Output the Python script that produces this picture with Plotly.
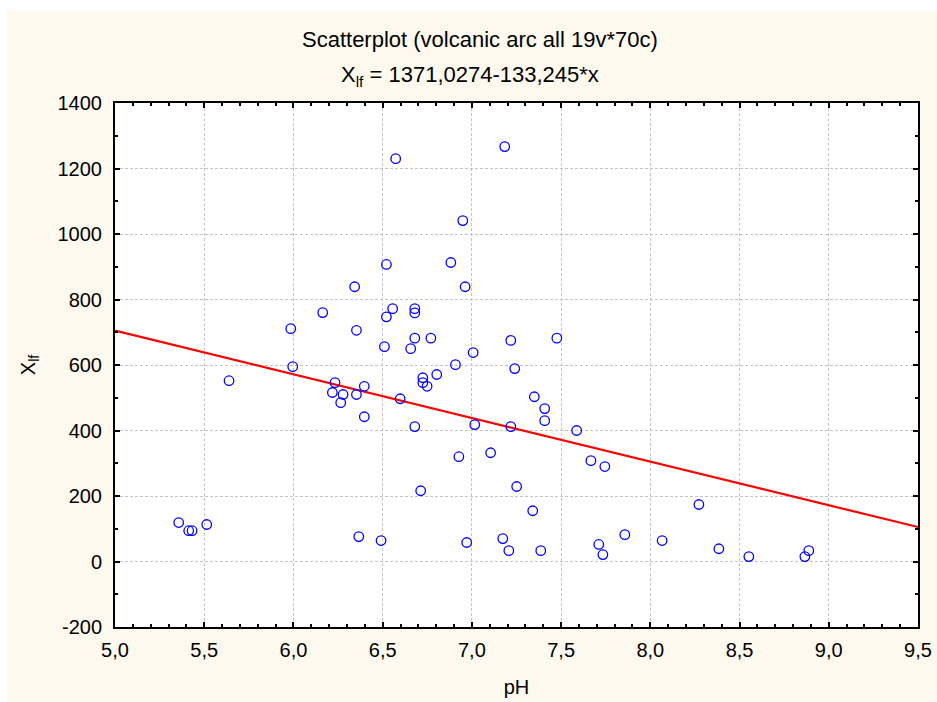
import plotly.graph_objects as go

# Data (pH vs X_lf)
ph = [5.357, 5.413, 5.432, 5.514, 5.639, 5.985, 5.996, 6.164, 6.218, 6.233,
      6.265, 6.278, 6.343, 6.353, 6.353, 6.366, 6.397, 6.397, 6.491, 6.510,
      6.521, 6.521, 6.556, 6.573, 6.598, 6.657, 6.680, 6.680, 6.680, 6.680,
      6.713, 6.725, 6.725, 6.749, 6.770, 6.803, 6.882, 6.908, 6.927, 6.949,
      6.962, 6.971, 7.007, 7.016, 7.105, 7.173, 7.184, 7.207, 7.218, 7.218,
      7.240, 7.251, 7.341, 7.350, 7.386, 7.408, 7.408, 7.476, 7.587, 7.667,
      7.711, 7.734, 7.745, 7.857, 8.066, 8.272, 8.384, 8.552, 8.866, 8.888]
xlf = [119, 94, 94, 113, 552, 711, 595, 760, 516, 546,
       485, 510, 839, 706, 510, 76, 535, 442, 64, 656,
       907, 747, 772, 1230, 497, 650, 772, 759, 682, 412,
       216, 561, 546, 535, 682, 571, 913, 601, 320, 1041,
       839, 58, 638, 418, 332, 70, 1267, 33, 675, 412,
       589, 229, 155, 503, 33, 467, 430, 682, 400, 308,
       52, 21, 290, 82, 64, 174, 39, 15, 15, 33]

# Regression (from the chart subtitle)
intercept = 1371.0274
slope = -133.245
x_range = [5.0, 9.5]
y_range = [-200, 1400]

x_tickvals = [5.0, 5.5, 6.0, 6.5, 7.0, 7.5, 8.0, 8.5, 9.0, 9.5]
x_ticktext = ["5,0", "5,5", "6,0", "6,5", "7,0", "7,5", "8,0", "8,5", "9,0", "9,5"]
y_tickvals = [-200, 0, 200, 400, 600, 800, 1000, 1200, 1400]
y_ticktext = ["-200", "0", "200", "400", "600", "800", "1000", "1200", "1400"]

title_text = "Scatterplot (volcanic arc all 19v*70c)"
subtitle_text = "X<sub>lf</sub> = 1371,0274-133,245*x"

FONT = "Liberation Sans, Arial, sans-serif"
CREAM = "#FEF9EE"
TICK_SIZE = 20
TITLE_SIZE = 22

fit_x = x_range
fit_y = [intercept + slope * v for v in fit_x]

fig = go.Figure()
fig.add_trace(go.Scatter(
    x=fit_x, y=fit_y, mode="lines",
    line=dict(color="#FF0000", width=2.2),
    hoverinfo="skip", showlegend=False, cliponaxis=True))
fig.add_trace(go.Scatter(
    x=ph, y=xlf, mode="markers",
    marker=dict(symbol="circle-open", size=9.5, color="#0000FF",
                line=dict(width=1.3, color="#0000FF")),
    showlegend=False, cliponaxis=False))

W, H = 937, 702
L, R, T, B = 115, 19, 103, 75
pw = W - L - R
ph_ = H - T - B


def px_to_paper_x(p):
    return (p - L) / pw


def px_to_paper_y(p):
    return (H - B - p) / ph_


tick_font = dict(family=FONT, size=TICK_SIZE, color="black")

fig.update_xaxes(
    range=x_range, tickmode="array", tickvals=x_tickvals, ticktext=x_ticktext,
    tickfont=tick_font,
    showline=True, linecolor="black", linewidth=2, mirror="ticks",
    ticks="inside", ticklen=5, tickwidth=1.5, tickcolor="black",
    showgrid=True, gridcolor="#C4C4C4", gridwidth=1, griddash="3px,2px",
    zeroline=False,
    minor=dict(dtick=0.1, ticks="inside", ticklen=3, tickwidth=1.5,
               tickcolor="black", showgrid=False),
    ticklabelstandoff=4,
    title=dict(text="pH", font=dict(family=FONT, size=TICK_SIZE, color="black"),
               standoff=20),
)
fig.update_yaxes(
    range=y_range, tickmode="array", tickvals=y_tickvals, ticktext=y_ticktext,
    tickfont=tick_font,
    showline=True, linecolor="black", linewidth=2, mirror="ticks",
    ticks="inside", ticklen=5, tickwidth=1.5, tickcolor="black",
    showgrid=True, gridcolor="#C4C4C4", gridwidth=1, griddash="3px,2px",
    zeroline=False,
    minor=dict(dtick=100, ticks="inside", ticklen=3, tickwidth=1.5,
               tickcolor="black", showgrid=False),
    ticklabelstandoff=7,
    title=dict(text="X<sub>lf</sub>", font=dict(family=FONT, size=TICK_SIZE, color="black"),
               standoff=17),
)

fig.update_layout(
    width=W, height=H,
    margin=dict(l=L, r=R, t=T, b=B, autoexpand=False),
    paper_bgcolor=CREAM, plot_bgcolor="white",
    font=dict(family=FONT, color="black"),
    showlegend=False,
    shapes=[
        dict(type="rect", xref="paper", yref="paper", layer="below",
             x0=px_to_paper_x(-5), x1=px_to_paper_x(W + 5),
             y0=px_to_paper_y(11), y1=px_to_paper_y(-5),
             fillcolor="white", line=dict(width=0)),
        dict(type="rect", xref="paper", yref="paper", layer="below",
             x0=px_to_paper_x(-5), x1=px_to_paper_x(7),
             y0=px_to_paper_y(H + 5), y1=px_to_paper_y(-5),
             fillcolor="white", line=dict(width=0)),
    ],
    annotations=[
        dict(text=title_text, xref="paper", yref="paper",
             x=px_to_paper_x(480), y=px_to_paper_y(39),
             xanchor="center", yanchor="middle", showarrow=False,
             font=dict(family=FONT, size=TITLE_SIZE, color="black")),
        dict(text=subtitle_text, xref="paper", yref="paper",
             x=px_to_paper_x(470), y=px_to_paper_y(76),
             xanchor="center", yanchor="middle", showarrow=False,
             font=dict(family=FONT, size=TITLE_SIZE, color="black")),
    ],
)

fig.write_html("out.html",
               config={"displayModeBar": False},
               post_script="document.body.style.margin='0px';"
                           "document.body.style.overflow='hidden';")
